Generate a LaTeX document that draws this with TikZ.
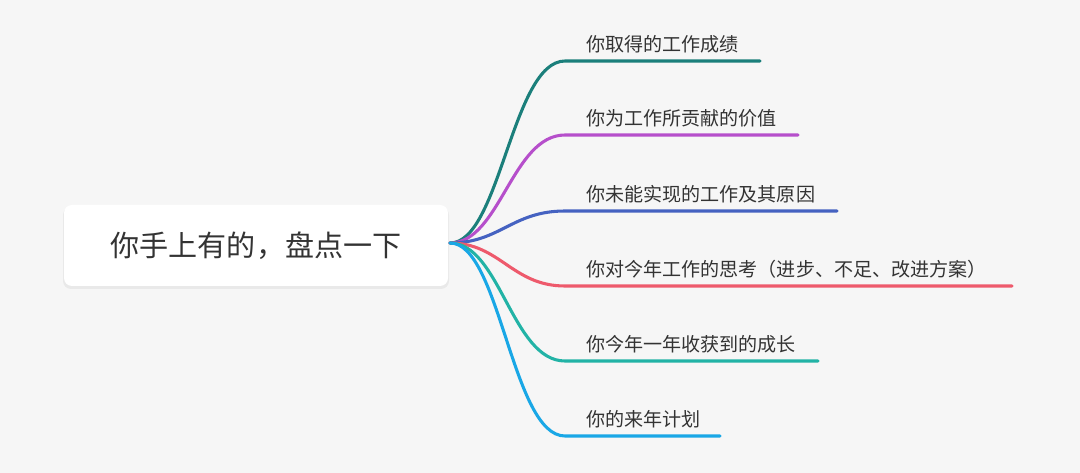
\documentclass[tikz,border=0pt]{standalone}
\usepackage{fontspec}
\newfontfamily\cjk{Noto Sans CJK SC}
\definecolor{bg}{HTML}{F6F6F6}
\definecolor{txt}{HTML}{333333}
\definecolor{cA}{HTML}{1B7F7B}
\definecolor{cB}{HTML}{B64FCB}
\definecolor{cC}{HTML}{4562C1}
\definecolor{cD}{HTML}{EE5A6C}
\definecolor{cE}{HTML}{22B3A6}
\definecolor{cF}{HTML}{19A7E6}
\begin{document}
\begin{tikzpicture}[x=0.75pt,y=-0.75pt,
  lbl/.style={anchor=west,inner sep=0pt,font=\cjk\fontsize{14.3}{17}\selectfont,text=txt},
  br/.style={line width=2.3pt,line cap=round}]
\fill[bg] (0,0) rectangle (1080,473);
\useasboundingbox (0,0) rectangle (1080,473);
\fill[black,opacity=0.05,rounded corners=6pt] (63,207) rectangle (449,289);
\node[fill=white,rounded corners=6pt,minimum width=288pt,minimum height=60.75pt,inner sep=0pt,font=\cjk\fontsize{21.8}{26}\selectfont,text=txt] (root) at (256,245.5) {你手上有的，盘点一下};
\coordinate (o) at (450,243);
\foreach \n/\y/\e/\c/\t in {1/61/760/cA/你取得的工作成绩,2/135/798/cB/你为工作所贡献的价值,3/211/837/cC/你未能实现的工作及其原因,4/286/1012/cD/你对今年工作的思考（进步、不足、改进方案）,5/361/818/cE/你今年一年收获到的成长,6/436/720/cF/你的来年计划}{
  \coordinate (s\n) at (565,\y);
  \coordinate (e\n) at (\e,\y);
  \node[lbl] (t\n) at (586,\y-17) {\t};
  \draw[br,\c] (o) .. controls (500,243) and (512,\y) .. (s\n) -- (e\n);
}
\end{tikzpicture}
\end{document}
